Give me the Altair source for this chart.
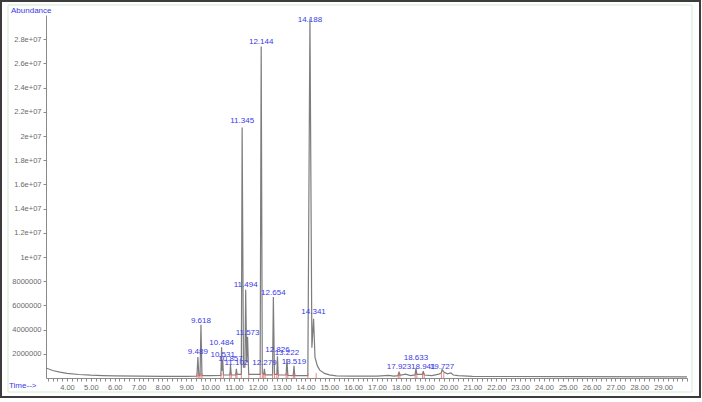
import altair as alt
import pandas as pd

# ---- chromatogram trace (retention time in min, abundance) ----
trace_t = [3.12, 3.4, 3.7, 4.0, 4.5, 5.0, 5.5, 6.0, 7.0, 8.0, 9.0,
           9.45, 9.489, 9.53, 9.58, 9.618, 9.66, 10.0,
           10.455, 10.484, 10.505, 10.531, 10.56, 10.83, 10.857, 10.89,
           11.08, 11.102, 11.13, 11.31, 11.345, 11.40, 11.46, 11.494, 11.535, 11.573, 11.62,
           12.10, 12.144, 12.19, 12.25, 12.279, 12.31, 12.62, 12.654, 12.70, 12.80, 12.826, 12.86,
           13.19, 13.222, 13.26, 13.49, 13.519, 13.55,
           14.10, 14.188, 14.27, 14.341, 14.40, 14.5, 14.6, 14.8, 15.0, 15.3, 16.0, 17.0,
           17.5, 17.7, 17.89, 17.923, 17.96, 18.2, 18.4, 18.60, 18.633, 18.67, 18.91, 18.941, 18.98,
           19.3, 19.6, 19.70, 19.727, 19.8, 19.95, 20.1, 20.2, 20.4, 21.0, 25.0, 30.0]
trace_v = [830000, 620000, 480000, 380000, 290000, 230000, 200000, 175000, 150000, 140000, 140000,
           150000, 1740000, 170000, 180000, 4400000, 200000, 200000,
           220000, 2550000, 600000, 1500000, 250000, 250000, 1070000, 250000,
           260000, 750000, 300000, 300000, 20700000, 900000, 900000, 7300000, 1300000, 3400000, 300000,
           300000, 27400000, 400000, 300000, 750000, 260000, 260000, 6700000, 300000, 300000, 1800000, 250000,
           250000, 1570000, 220000, 200000, 1000000, 200000,
           200000, 29700000, 2500000, 4900000, 1700000, 1000000, 650000, 380000, 260000, 180000, 150000, 150000,
           220000, 160000, 200000, 520000, 220000, 320000, 200000, 260000, 800000, 300000, 300000, 560000, 250000,
           200000, 320000, 420000, 700000, 500000, 350000, 420000, 250000, 200000, 130000, 110000, 100000]
assert len(trace_t) == len(trace_v)

# ---- peak labels ----
peak_t = [9.489, 9.618, 10.484, 10.531, 10.857, 11.102, 11.345, 11.494, 11.573,
          12.144, 12.279, 12.654, 12.826, 13.222, 13.519, 14.188, 14.341,
          17.923, 18.633, 18.941, 19.727]
label_v = [2150000, 4710000, 2890000, 1900000, 1570000, 1240000, 21240000, 7690000, 3720000,
           27770000, 1240000, 7020000, 2310000, 2070000, 1320000, 29600000, 5450000,
           910000, 1650000, 910000, 910000]
label_txt = ["9.489", "9.618", "10.484", "10.531", "10.857", "11.102", "11.345", "11.494", "11.573",
             "12.144", "12.279", "12.654", "12.826", "13.222", "13.519", "14.188", "14.341",
             "17.923", "18.633", "18.941", "19.727"]

# ---- integration markers (red) ----
int_t = [9.45, 9.53, 9.58, 9.66, 10.455, 10.56, 10.83, 10.89, 11.08, 11.13, 11.31, 11.62,
         12.10, 12.19, 12.25, 12.31, 12.62, 12.70, 12.80, 12.86, 13.19, 13.26, 13.49, 13.55,
         14.10, 14.45, 17.89, 17.96, 18.60, 18.67, 18.91, 18.98, 19.70, 19.8]
int_h = 400000

# ---- axes ----
x_ticks = [round(3.2 + 0.2 * i, 1) for i in range(135)]
y_ticks = [2000000, 4000000, 6000000, 8000000, 10000000, 12000000, 14000000,
           16000000, 18000000, 20000000, 22000000, 24000000, 26000000, 28000000]

X_DOMAIN = [3.12, 30.0]
Y_DOMAIN = [0, 30000000]
FONT = "Liberation Sans"
BLUE = "#3a3ae6"

trace_df = pd.DataFrame({"t": trace_t, "v": trace_v, "i": list(range(len(trace_t)))})
label_df = pd.DataFrame({"t": peak_t, "v": label_v, "txt": label_txt})
int_df = pd.DataFrame({"t": int_t, "v": [0] * len(int_t), "v1": [int_h] * len(int_t)})

xscale = alt.Scale(domain=X_DOMAIN, nice=False, zero=False)
yscale = alt.Scale(domain=Y_DOMAIN, nice=False, zero=False)

x_axis = alt.Axis(values=x_ticks, title=None, grid=False, labelOverlap=False, labelFlush=False,
                  labelExpr="abs(datum.value - round(datum.value)) < 0.01 && datum.value < 29.5 ? format(datum.value, '.2f') : ''",
                  tickSize=3, labelPadding=2)
y_axis = alt.Axis(values=y_ticks, title=None, grid=False, labelOverlap=False,
                  labelExpr="datum.value < 10000000 ? format(datum.value, 'd') : format(datum.value / 10000000, '.2~f') + 'e+07'",
                  tickSize=3, labelPadding=2)

X = alt.X("t:Q", scale=xscale, axis=x_axis)
Y = alt.Y("v:Q", scale=yscale, axis=y_axis)

line = alt.Chart(trace_df).mark_line(color="#7d7d7d", strokeWidth=1.2, clip=True).encode(
    x=X, y=Y, order="i:Q",
)

red = alt.Chart(int_df).mark_rule(color="#e06a6a", strokeWidth=1, opacity=0.8).encode(
    x=X, y=Y, y2="v1:Q",
)

labels = alt.Chart(label_df).mark_text(color=BLUE, font=FONT, fontSize=8, align="center",
                                       baseline="middle").encode(
    x=X, y=Y, text="txt:N",
)

one = pd.DataFrame({"a": [0]})
frame_outer = alt.Chart(one).mark_rect(filled=False, stroke="#3c3c3c", strokeWidth=2).encode(
    x=alt.value(-45), x2=alt.value(654), y=alt.value(-14), y2=alt.value(382))
frame_inner = alt.Chart(one).mark_rect(filled=False, stroke="#d6ecd6", strokeWidth=1).encode(
    x=alt.value(-38), x2=alt.value(646), y=alt.value(-10), y2=alt.value(377))
abund = alt.Chart(one).mark_text(text="Abundance", color=BLUE, font=FONT, fontSize=8,
                                 align="left", baseline="middle").encode(
    x=alt.value(-35), y=alt.value(-4))
timet = alt.Chart(one).mark_text(text="Time-->", color=BLUE, font=FONT, fontSize=8,
                                 align="left", baseline="middle").encode(
    x=alt.value(-37), y=alt.value(371))

chart = alt.layer(line, red, labels, frame_outer, frame_inner, abund, timet).properties(
    width=641, height=363,
    autosize=alt.AutoSizeParams(type="none"),
    padding={"left": 46, "top": 15, "right": 15, "bottom": 24},
    background="white",
).configure_view(stroke=None).configure_axis(
    labelFont=FONT, labelFontSize=7.5, labelColor="#6a6a6a", labelOverlap=False,
    domainColor="#8a8a8a", tickColor="#8a8a8a", domainWidth=1,
)

chart.save("out.html", embed_options={"renderer": "svg", "actions": False})
